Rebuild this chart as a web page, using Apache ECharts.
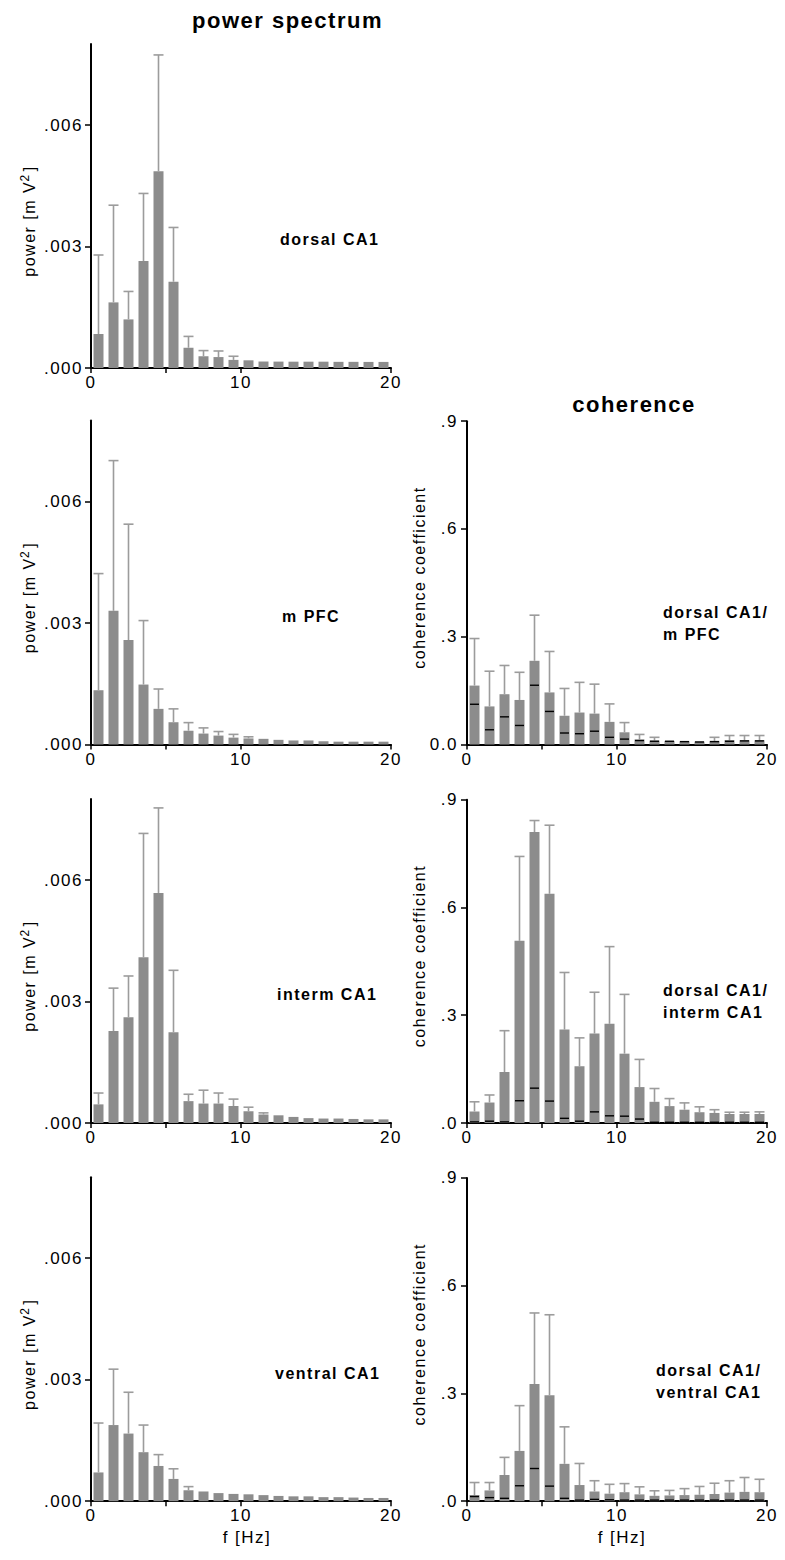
<!DOCTYPE html>
<html><head><meta charset="utf-8">
<script src="https://cdn.jsdelivr.net/npm/echarts@6/dist/echarts.min.js"></script>
<style>
html,body{margin:0;padding:0;background:#fff;}
#c{width:785px;height:1560px;}
#c text{letter-spacing:1.5px;}
</style></head><body><div id="c"></div>
<script>
// ---------- data ----------
const freqs = [0.5,1.5,2.5,3.5,4.5,5.5,6.5,7.5,8.5,9.5,10.5,11.5,12.5,13.5,14.5,15.5,16.5,17.5,18.5,19.5];

const dorsalPower    = [0.00084,0.00162,0.00120,0.00264,0.00486,0.00213,0.00050,0.00029,0.00027,0.00020,0.00019,0.000160,0.000158,0.000156,0.000156,0.000156,0.000152,0.000152,0.000150,0.000150];
const dorsalPowerErr = [0.00279,0.00402,0.00189,0.00431,0.00773,0.00347,0.00078,0.00043,0.00042,0.00029,0.00020,0.000160,0.000158,0.000156,0.000156,0.000156,0.000152,0.000152,0.000150,0.000150];

const mpfcPower      = [0.00134,0.00330,0.00258,0.00148,0.00088,0.00055,0.00034,0.00027,0.00022,0.00017,0.00015,0.00014,0.000115,0.00010,0.00010,0.00008,0.00007,0.00007,0.00007,0.00007];
const mpfcPowerErr   = [0.00422,0.00701,0.00544,0.00306,0.00137,0.00088,0.00054,0.00041,0.00032,0.00025,0.00019,0.00015,0.000120,0.00010,0.00010,0.00008,0.00007,0.00007,0.00007,0.00007];

const intermPower    = [0.00046,0.00227,0.00261,0.00409,0.00568,0.00224,0.00054,0.00048,0.00048,0.00042,0.00029,0.00021,0.00019,0.00015,0.00012,0.00011,0.00011,0.00010,0.00009,0.00009];
const intermPowerErr = [0.00074,0.00333,0.00363,0.00715,0.00778,0.00377,0.00071,0.00081,0.00074,0.00059,0.00039,0.00025,0.00019,0.00015,0.00012,0.00011,0.00011,0.00010,0.00009,0.00009];

const ventralPower    = [0.00071,0.00188,0.00167,0.00121,0.00087,0.00055,0.00027,0.00024,0.00020,0.00018,0.00017,0.00015,0.00013,0.00012,0.00012,0.00010,0.00010,0.00009,0.00008,0.00008];
const ventralPowerErr = [0.00193,0.00326,0.00269,0.00188,0.00115,0.00080,0.00036,0.00025,0.00020,0.00018,0.00017,0.00015,0.00013,0.00012,0.00012,0.00010,0.00010,0.00009,0.00008,0.00008];

const cohMpfc     = [0.164,0.106,0.140,0.124,0.233,0.145,0.080,0.089,0.086,0.063,0.034,0.014,0.011,0.010,0.009,0.008,0.010,0.012,0.012,0.012];
const cohMpfcErr  = [0.295,0.204,0.220,0.201,0.360,0.259,0.156,0.173,0.168,0.113,0.061,0.028,0.020,0.012,0.011,0.009,0.020,0.025,0.025,0.025];
const cohMpfcShuf = [0.112,0.041,0.077,0.053,0.165,0.092,0.032,0.030,0.037,0.020,0.015,0.011,0.009,0.009,0.008,0.007,0.008,0.009,0.010,0.010];

const cohInterm     = [0.032,0.057,0.142,0.507,0.810,0.638,0.260,0.158,0.249,0.276,0.193,0.100,0.059,0.047,0.037,0.030,0.028,0.025,0.025,0.025];
const cohIntermErr  = [0.059,0.078,0.257,0.742,0.842,0.829,0.419,0.237,0.364,0.491,0.358,0.177,0.096,0.068,0.056,0.045,0.037,0.030,0.030,0.031];
const cohIntermShuf = [0.003,0.005,0.003,0.062,0.097,0.061,0.013,0.005,0.031,0.020,0.019,0.011,0.002,0.002,0.002,0.002,0.002,0.002,0.002,0.002];

const cohVentral     = [0.017,0.030,0.073,0.140,0.326,0.295,0.104,0.045,0.027,0.021,0.025,0.019,0.015,0.016,0.017,0.018,0.020,0.024,0.026,0.025];
const cohVentralErr  = [0.052,0.052,0.122,0.266,0.524,0.519,0.207,0.105,0.057,0.047,0.049,0.040,0.029,0.030,0.035,0.041,0.050,0.057,0.066,0.061];
const cohVentralShuf = [0.013,0.010,0.008,0.043,0.091,0.042,0.008,0.003,0.005,0.004,0.003,0.003,0.003,0.003,0.003,0.003,0.003,0.003,0.003,0.003];

const freqTickValues   = [0, 5, 10, 20];
const freqLabelValues  = [0, 10, 20];
const powerTickValues  = [0, 0.003, 0.006];
const powerTickLabels  = ['.000', '.003', '.006'];
const cohTickValues    = [0, 0.3, 0.6, 0.9];
const cohTickLabelsTop = ['0.0', '.3', '.6', '.9'];
const cohTickLabels    = ['.0', '.3', '.6', '.9'];

const columnTitles = ['power spectrum', 'coherence'];
const powerRegions = ['dorsal CA1', 'm PFC', 'interm CA1', 'ventral CA1'];
const cohPairs     = ['dorsal CA1/\nm PFC', 'dorsal CA1/\ninterm CA1', 'dorsal CA1/\nventral CA1'];
const freqAxisName  = 'f [Hz]';
const powerAxisName = ['power [m V', '2', ']'];
const cohAxisName   = 'coherence coefficient';

// ---------- layout ----------
const FONT = '"Liberation Sans", Arial, Helvetica, sans-serif';
const rowZero = [368, 744.5, 1123, 1501.2];
const POWER_H = 324, COH_H = 323.3;
const colLeft = [91, 467], PLOT_W = 300;
const BAR = '#8c8c8c', ERR = '#9c9c9c';

const panels = [
  {kind:'p', col:0, row:0, v:dorsalPower,  e:dorsalPowerErr},
  {kind:'p', col:0, row:1, v:mpfcPower,    e:mpfcPowerErr},
  {kind:'p', col:0, row:2, v:intermPower,  e:intermPowerErr},
  {kind:'p', col:0, row:3, v:ventralPower, e:ventralPowerErr},
  {kind:'c', col:1, row:1, v:cohMpfc,    e:cohMpfcErr,    s:cohMpfcShuf,    labels:cohTickLabelsTop},
  {kind:'c', col:1, row:2, v:cohInterm,  e:cohIntermErr,  s:cohIntermShuf,  labels:cohTickLabels},
  {kind:'c', col:1, row:3, v:cohVentral, e:cohVentralErr, s:cohVentralShuf, labels:cohTickLabels}
];

const grids = [], xAxes = [], yAxes = [], series = [];

function errRender(params, api) {
  const x = api.value(0), v = api.value(1), e = api.value(2);
  const p0 = api.coord([x, v]), p1 = api.coord([x, e]);
  if (p0[1] - p1[1] < 1) return null;
  const st = {stroke: ERR, lineWidth: 1.6};
  return {type:'group', children:[
    {type:'line', shape:{x1:p0[0], y1:p0[1], x2:p1[0], y2:p1[1]}, style:st},
    {type:'line', shape:{x1:p1[0]-5, y1:p1[1], x2:p1[0]+5, y2:p1[1]}, style:st}
  ]};
}
function dashRender(params, api) {
  const p = api.coord([api.value(0), api.value(1)]);
  return {type:'line', shape:{x1:p[0]-4.5, y1:p[1], x2:p[0]+4.5, y2:p[1]}, style:{stroke:'#000', lineWidth:1.4}};
}

panels.forEach((pn, i) => {
  const h = pn.kind === 'p' ? POWER_H : COH_H;
  grids.push({left: colLeft[pn.col], width: PLOT_W, top: rowZero[pn.row] - h, height: h, containLabel:false, outerBoundsMode:'none'});
  xAxes.push({
    gridIndex:i, type:'value', min:0, max:20,
    axisLine:{show:true, onZero:false, lineStyle:{color:'#000', width:2}},
    axisTick:{show:true, length:5, customValues:freqTickValues, lineStyle:{color:'#000', width:1.5}},
    axisLabel:{customValues:freqLabelValues, color:'#000', fontSize:17, fontFamily:FONT, margin:6,
      formatter: v => String(Math.round(v))},
    splitLine:{show:false}
  });
  const tv = pn.kind === 'p' ? powerTickValues : cohTickValues;
  const tl = pn.kind === 'p' ? powerTickLabels : pn.labels;
  yAxes.push({
    gridIndex:i, type:'value', min:0, max: pn.kind === 'p' ? 0.008 : 0.9,
    axisLine:{show:true, onZero:false, lineStyle:{color:'#000', width:2}},
    axisTick:{show:true, length:6, customValues:tv, lineStyle:{color:'#000', width:1.5}},
    axisLabel:{customValues:tv, color:'#000', fontSize:17, fontFamily:FONT, margin: pn.kind === 'p' ? 8 : 9,
      formatter: v => { let k = 0; tv.forEach((t, j) => { if (Math.abs(t - v) < Math.abs(tv[k] - v)) k = j; }); return tl[k]; }},
    splitLine:{show:false}
  });
  series.push({type:'bar', xAxisIndex:i, yAxisIndex:i, barWidth:10, silent:true,
    itemStyle:{color:BAR}, data: freqs.map((f, k) => [f, pn.v[k]]), z:2});
  series.push({type:'custom', xAxisIndex:i, yAxisIndex:i, silent:true, z:3, encode:{x:0, y:1},
    data: freqs.map((f, k) => [f, pn.v[k], pn.e[k]]), renderItem: errRender});
  if (pn.s) {
    series.push({type:'custom', xAxisIndex:i, yAxisIndex:i, silent:true, z:4, encode:{x:0, y:1},
      data: freqs.map((f, k) => [f, pn.s[k]]), renderItem: dashRender});
  }
});

function txt(text, x, y, font, align, extra) {
  return Object.assign({type:'text', x:x, y:y, silent:true, z:10,
    style:{text:text, font:font, fill:'#000', textAlign:align || 'center', textVerticalAlign:'middle'}}, extra || {});
}
const graphics = [];
graphics.push(txt(columnTitles[0], 287.5, 20, 'bold 22px ' + FONT));
graphics.push(txt(columnTitles[1], 634, 404, 'bold 22px ' + FONT));
const regionPos = [[280, 239.5], [282, 616], [277, 994.5], [275, 1373]];
powerRegions.forEach((t, k) => graphics.push(txt(t, regionPos[k][0], regionPos[k][1], 'bold 16px ' + FONT, 'left')));
const pairPos = [[663, 623.6], [663, 1001.6], [656, 1381.6]];
cohPairs.forEach((t, k) => {
  const g = txt(t, pairPos[k][0], pairPos[k][1], 'bold 16px ' + FONT, 'left');
  g.style.lineHeight = 22.3;
  graphics.push(g);
});
graphics.push(txt(freqAxisName, 247, 1537.5, '17px ' + FONT));
graphics.push(txt(freqAxisName, 622, 1537.5, '17px ' + FONT));
const rot = {rotation: Math.PI / 2};
for (let r = 0; r < 4; r++) {
  const z0 = rowZero[r];
  graphics.push(txt(powerAxisName[0], 29, z0 - 91.3, '16px ' + FONT, 'left', rot));
  graphics.push(txt(powerAxisName[1], 25, z0 - 190.5, '12px ' + FONT, 'center', rot));
  graphics.push(txt(powerAxisName[2], 29, z0 - 199.7, '16px ' + FONT, 'center', rot));
}
for (let r = 1; r < 4; r++) {
  graphics.push(txt(cohAxisName, 419.5, rowZero[r] - 167, '16px ' + FONT, 'center', rot));
}

const chart = echarts.init(document.getElementById('c'), null, {renderer:'svg', width:785, height:1560});
chart.setOption({
  animation:false,
  backgroundColor:'#fff',
  grid:grids, xAxis:xAxes, yAxis:yAxes, series:series,
  graphic:{elements:graphics}
});
</script></body></html>
